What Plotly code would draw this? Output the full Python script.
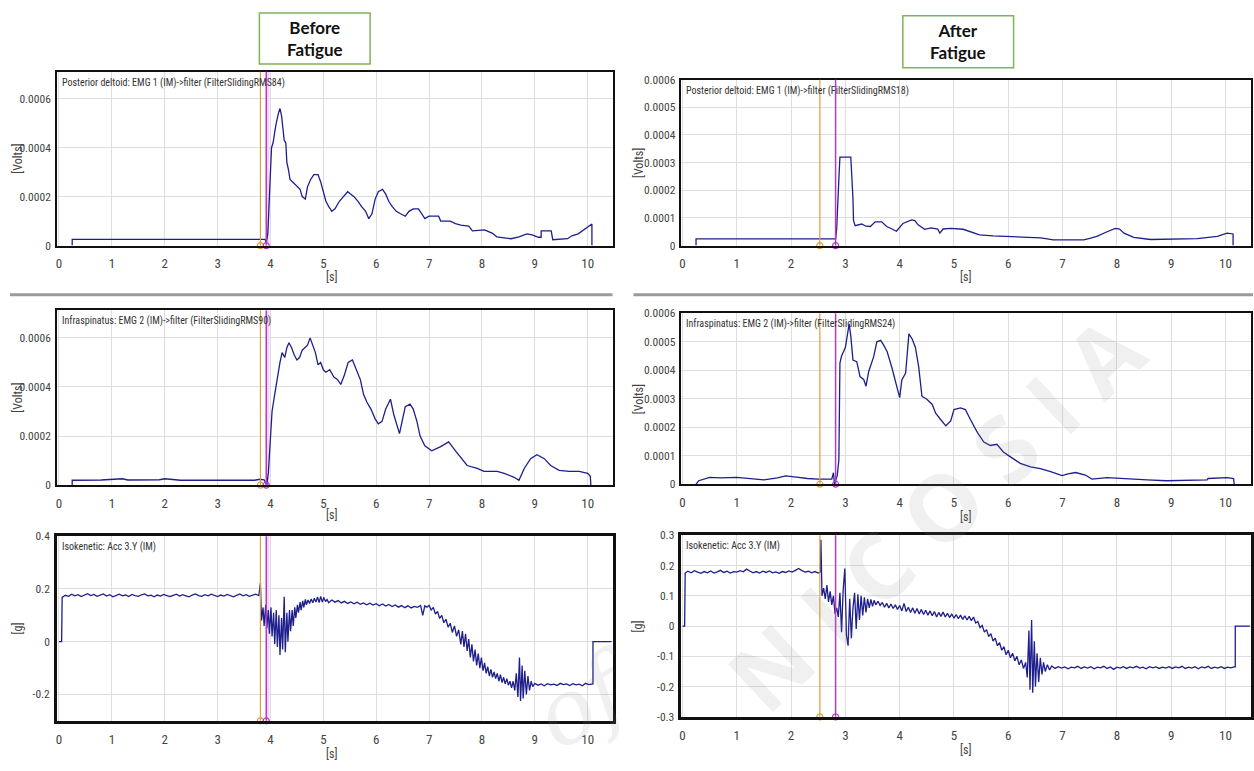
import plotly.graph_objects as go

W, H = 1254, 771

# ---------------- data ----------------
x_ticks = [0, 1, 2, 3, 4, 5, 6, 7, 8, 9, 10]
x_tick_labels = ["0", "1", "2", "3", "4", "5", "6", "7", "8", "9", "10"]

before_emg_ticks = [0, 0.0002, 0.0004, 0.0006]
before_emg_labels = ["0", "0.0002", "0.0004", "0.0006"]
after_emg_ticks = [0, 0.0001, 0.0002, 0.0003, 0.0004, 0.0005, 0.0006]
after_emg_labels = ["0", "0.0001", "0.0002", "0.0003", "0.0004", "0.0005", "0.0006"]
before_acc_ticks = [-0.2, 0, 0.2, 0.4]
before_acc_labels = ["-0.2", "0", "0.2", "0.4"]
after_acc_ticks = [-0.3, -0.2, -0.1, 0, 0.1, 0.2, 0.3]
after_acc_labels = ["-0.3", "-0.2", "-0.1", "0", "0.1", "0.2", "0.3"]

# event markers (orange, magenta) in seconds
before_events = [3.81, 3.92]
after_events = [2.53, 2.82]

# Posterior deltoid, before fatigue (time s, volts)
emg1_before = [
    (0.25, 0), (0.25, 0.000025), (3.9, 0.000025), (3.92, 0.00001), (3.95, 0.00005),
    (3.98, 0.0002), (4.0, 0.00033), (4.02, 0.0004), (4.05, 0.00042), (4.1, 0.00049),
    (4.15, 0.00054), (4.18, 0.00056), (4.21, 0.00053), (4.24, 0.00045), (4.26, 0.00043),
    (4.29, 0.00042), (4.31, 0.00034), (4.34, 0.00031), (4.37, 0.00027), (4.42, 0.00026),
    (4.47, 0.00025), (4.52, 0.00024), (4.56, 0.00023), (4.6, 0.0002), (4.66, 0.00019),
    (4.7, 0.00024), (4.76, 0.00027), (4.82, 0.00029), (4.9, 0.00029), (4.95, 0.00026),
    (4.99, 0.00023), (5.05, 0.00018), (5.1, 0.00016), (5.16, 0.00014), (5.22, 0.00015),
    (5.3, 0.00018), (5.38, 0.0002), (5.46, 0.00022), (5.52, 0.00021), (5.58, 0.0002),
    (5.66, 0.00018), (5.72, 0.00016), (5.8, 0.00014), (5.86, 0.00011), (5.92, 0.00013),
    (5.98, 0.00019), (6.04, 0.00022), (6.12, 0.00023), (6.18, 0.00021), (6.24, 0.00018),
    (6.3, 0.00016), (6.38, 0.00014), (6.46, 0.00013), (6.55, 0.00012), (6.62, 0.00014),
    (6.7, 0.00015), (6.8, 0.00015), (6.86, 0.00013), (6.92, 0.00011), (7.0, 0.00012),
    (7.18, 0.00012), (7.22, 0.0001), (7.4, 0.0001), (7.5, 0.00009), (7.6, 0.000084),
    (7.75, 0.00008), (7.82, 0.00006), (8.05, 0.000064), (8.2, 0.00005), (8.28, 0.000036),
    (8.55, 0.000028), (8.7, 0.000036), (8.85, 0.000048), (8.95, 0.000044), (9.07, 0.000034),
    (9.12, 0.000034), (9.12, 0.00006), (9.31, 0.00006), (9.34, 0.000024), (9.62, 0.000028),
    (9.7, 0.00004), (9.82, 0.000048), (9.92, 0.000064), (10.02, 0.00008), (10.08, 0.000088),
    (10.08, 0),
]

# Infraspinatus, before fatigue
emg2_before = [
    (0.25, 0), (0.25, 0.00002), (0.8, 0.000021), (1.0, 0.000024), (1.2, 0.000026),
    (1.3, 0.000021), (1.9, 0.000022), (2.0, 0.000026), (2.15, 0.000024), (2.3, 0.00002),
    (3.7, 0.00002), (3.8, 0.000024), (3.88, 0.000022), (3.93, 0.0), (3.96, 0.00005),
    (3.99, 0.00016), (4.03, 0.0003), (4.08, 0.00037), (4.13, 0.00044), (4.18, 0.0005),
    (4.22, 0.00054), (4.27, 0.00052), (4.31, 0.00056), (4.35, 0.00058), (4.4, 0.00056),
    (4.45, 0.00053), (4.5, 0.00051), (4.55, 0.00052), (4.6, 0.00055), (4.65, 0.00056),
    (4.7, 0.00057), (4.75, 0.0006), (4.8, 0.00057), (4.85, 0.00054), (4.9, 0.00049),
    (4.95, 0.0005), (5.0, 0.00047), (5.05, 0.00046), (5.12, 0.00047), (5.2, 0.00044),
    (5.27, 0.00043), (5.33, 0.00041), (5.4, 0.00045), (5.47, 0.0005), (5.55, 0.00051),
    (5.62, 0.00047), (5.7, 0.00043), (5.76, 0.00037), (5.82, 0.00034), (5.9, 0.00031),
    (5.98, 0.00027), (6.04, 0.00025), (6.11, 0.00026), (6.18, 0.00031), (6.27, 0.00035),
    (6.33, 0.00029), (6.39, 0.00024), (6.44, 0.00021), (6.49, 0.00026), (6.55, 0.00032),
    (6.64, 0.00033), (6.7, 0.00031), (6.77, 0.00026), (6.83, 0.0002), (6.92, 0.00016),
    (7.05, 0.00014), (7.21, 0.000156), (7.37, 0.000176), (7.5, 0.00014), (7.59, 0.000116),
    (7.72, 0.00008), (7.91, 0.000068), (8.04, 0.000056), (8.29, 0.000056), (8.42, 0.000048),
    (8.61, 0.000032), (8.7, 0.00002), (8.8, 0.000068), (8.92, 0.000108), (9.04, 0.000124),
    (9.18, 0.000108), (9.3, 0.00008), (9.46, 0.00006), (9.65, 0.000056), (9.84, 0.000056),
    (10.0, 0.000048), (10.05, 0.000036), (10.06, 0),
]

# Isokinetic acc, before fatigue (g)
acc_before = [
    (0.0, 0), (0.05, 0), (0.06, 0.168), (0.12, 0.176), (0.18, 0.172), (0.24, 0.180),
    (0.30, 0.174), (0.36, 0.178), (0.42, 0.171), (0.48, 0.177), (0.54, 0.182), (0.60, 0.175),
    (0.66, 0.179), (0.72, 0.172), (0.78, 0.176), (0.84, 0.181), (0.90, 0.173), (0.96, 0.178),
    (1.02, 0.170), (1.08, 0.176), (1.14, 0.180), (1.20, 0.174), (1.26, 0.177), (1.32, 0.171),
    (1.38, 0.179), (1.44, 0.175), (1.50, 0.172), (1.56, 0.178), (1.62, 0.181), (1.68, 0.174),
    (1.74, 0.176), (1.80, 0.170), (1.86, 0.177), (1.92, 0.173), (1.98, 0.179), (2.04, 0.175),
    (2.10, 0.171), (2.16, 0.176), (2.22, 0.180), (2.28, 0.173), (2.34, 0.178), (2.40, 0.174),
    (2.46, 0.170), (2.52, 0.177), (2.58, 0.181), (2.64, 0.175), (2.70, 0.172), (2.76, 0.178),
    (2.82, 0.174), (2.88, 0.180), (2.94, 0.176), (3.00, 0.171), (3.06, 0.177), (3.12, 0.173),
    (3.18, 0.179), (3.24, 0.175), (3.30, 0.170), (3.36, 0.176), (3.42, 0.181), (3.48, 0.174),
    (3.54, 0.178), (3.60, 0.172), (3.66, 0.177), (3.72, 0.180), (3.78, 0.175), (3.81, 0.222),
    (3.83, 0.08), (3.86, 0.13), (3.88, 0.06), (3.91, 0.14), (3.93, 0.05), (3.96, 0.12),
    (3.98, 0.03), (4.01, 0.13), (4.03, 0.02), (4.06, 0.11), (4.08, -0.01), (4.11, 0.12),
    (4.13, -0.02), (4.16, 0.10), (4.18, -0.05), (4.21, 0.09), (4.23, -0.03), (4.26, 0.17),
    (4.28, -0.04), (4.31, 0.11), (4.33, 0.00), (4.36, 0.12), (4.38, 0.04), (4.41, 0.12),
    (4.43, 0.06), (4.46, 0.13), (4.48, 0.09), (4.51, 0.14), (4.53, 0.11), (4.56, 0.15),
    (4.58, 0.12), (4.61, 0.155), (4.63, 0.13), (4.66, 0.16), (4.68, 0.14), (4.71, 0.158),
    (4.74, 0.145), (4.77, 0.162), (4.80, 0.148), (4.83, 0.165), (4.86, 0.15), (4.89, 0.17),
    (4.92, 0.148), (4.95, 0.172), (4.98, 0.15), (5.01, 0.168), (5.04, 0.152), (5.07, 0.16),
    (5.10, 0.148), (5.16, 0.158), (5.22, 0.150), (5.28, 0.156), (5.34, 0.147), (5.40, 0.153),
    (5.46, 0.145), (5.52, 0.151), (5.58, 0.144), (5.64, 0.150), (5.70, 0.142), (5.76, 0.147),
    (5.82, 0.140), (5.88, 0.146), (5.94, 0.139), (6.00, 0.144), (6.06, 0.136), (6.12, 0.143),
    (6.18, 0.135), (6.24, 0.141), (6.30, 0.133), (6.36, 0.139), (6.42, 0.131), (6.48, 0.137),
    (6.54, 0.129), (6.60, 0.136), (6.66, 0.128), (6.72, 0.134), (6.78, 0.130), (6.84, 0.137),
    (6.88, 0.100), (6.92, 0.136), (6.96, 0.131), (7.00, 0.138), (7.04, 0.120), (7.08, 0.130),
    (7.12, 0.105), (7.16, 0.115), (7.20, 0.088), (7.24, 0.100), (7.28, 0.072), (7.32, 0.085),
    (7.36, 0.055), (7.40, 0.070), (7.44, 0.035), (7.48, 0.060), (7.52, 0.020), (7.56, 0.045),
    (7.60, -0.010), (7.63, 0.040), (7.66, -0.020), (7.69, 0.030), (7.72, -0.035), (7.75, 0.010),
    (7.78, -0.060), (7.81, -0.010), (7.84, -0.075), (7.87, -0.030), (7.90, -0.090), (7.93, -0.045),
    (7.96, -0.100), (7.99, -0.060), (8.02, -0.110), (8.05, -0.080), (8.08, -0.120), (8.11, -0.095),
    (8.14, -0.130), (8.17, -0.105), (8.20, -0.135), (8.23, -0.115), (8.26, -0.140), (8.29, -0.120),
    (8.32, -0.150), (8.35, -0.125), (8.38, -0.155), (8.41, -0.135), (8.44, -0.160), (8.47, -0.140),
    (8.50, -0.165), (8.53, -0.150), (8.56, -0.175), (8.59, -0.150), (8.62, -0.185), (8.65, -0.120),
    (8.68, -0.210), (8.71, -0.060), (8.73, -0.225), (8.76, -0.090), (8.78, -0.215), (8.81, -0.110),
    (8.84, -0.200), (8.87, -0.130), (8.90, -0.185), (8.93, -0.150), (8.96, -0.170), (9.00, -0.158),
    (9.06, -0.165), (9.12, -0.160), (9.18, -0.167), (9.24, -0.159), (9.30, -0.164), (9.36, -0.161),
    (9.42, -0.166), (9.48, -0.158), (9.54, -0.163), (9.60, -0.160), (9.66, -0.166), (9.72, -0.159),
    (9.78, -0.164), (9.84, -0.161), (9.90, -0.167), (9.96, -0.158), (10.02, -0.163), (10.08, -0.160),
    (10.10, -0.160), (10.10, 0.0), (10.45, 0.0),
]

# Posterior deltoid, after fatigue
emg1_after = [
    (0.25, 0), (0.25, 0.000024), (2.82, 0.000024), (2.84, 0.00006), (2.88, 0.00024),
    (2.9, 0.00032), (3.1, 0.00032), (3.12, 0.00026), (3.14, 0.00017), (3.15, 0.00009),
    (3.18, 0.000072), (3.3, 0.000078), (3.38, 0.00007), (3.46, 0.000069), (3.55, 0.000086),
    (3.67, 0.000086), (3.76, 0.000069), (3.86, 0.00006), (3.94, 0.000052), (4.06, 0.00008),
    (4.22, 0.000093), (4.28, 0.00009), (4.34, 0.000075), (4.46, 0.000059), (4.58, 0.000064),
    (4.7, 0.00006), (4.74, 0.000045), (4.8, 0.00006), (4.93, 0.000062), (5.17, 0.000059),
    (5.3, 0.00005), (5.47, 0.000039), (5.72, 0.000035), (6.03, 0.000033), (6.52, 0.00003),
    (6.6, 0.000028), (6.83, 0.000021), (7.39, 0.000021), (7.5, 0.000026), (7.63, 0.000033),
    (7.82, 0.00005), (7.97, 0.000062), (8.05, 0.00006), (8.13, 0.000045), (8.31, 0.00003),
    (8.62, 0.000022), (9.48, 0.000025), (9.6, 0.000028), (9.85, 0.000033), (10.03, 0.000045),
    (10.14, 0.000042), (10.14, 0),
]

# Infraspinatus, after fatigue
emg2_after = [
    (0.25, 0), (0.3, 0.000012), (0.5, 0.000024), (0.7, 0.000022), (1.0, 0.000024),
    (1.2, 0.00002), (1.5, 0.000015), (1.75, 0.000022), (1.9, 0.000029), (2.1, 0.000025),
    (2.3, 0.00002), (2.5, 0.000018), (2.75, 0.000018), (2.78, 0.00004), (2.8, 0.0),
    (2.85, 0.00003), (2.88, 0.000084), (2.9, 0.000425), (2.93, 0.00045), (3.0, 0.00048),
    (3.07, 0.000563), (3.1, 0.00052), (3.14, 0.000436), (3.21, 0.00043), (3.27, 0.000378),
    (3.34, 0.000367), (3.38, 0.000344), (3.43, 0.000396), (3.52, 0.000447), (3.58, 0.0005),
    (3.65, 0.000505), (3.7, 0.00049), (3.77, 0.000465), (3.86, 0.000407), (3.94, 0.000344),
    (4.0, 0.000304), (4.04, 0.000366), (4.11, 0.00039), (4.17, 0.000528), (4.23, 0.00051),
    (4.29, 0.00048), (4.35, 0.000413), (4.41, 0.000309), (4.5, 0.000298), (4.6, 0.00028),
    (4.66, 0.00025), (4.75, 0.000228), (4.85, 0.000205), (4.94, 0.000222), (5.0, 0.000262),
    (5.12, 0.000268), (5.21, 0.000262), (5.3, 0.000228), (5.43, 0.000182), (5.55, 0.000148),
    (5.67, 0.000136), (5.79, 0.00014), (5.91, 0.000113), (6.04, 0.000096), (6.22, 0.000073),
    (6.41, 0.000061), (6.59, 0.000055), (6.78, 0.000044), (6.99, 0.00003), (7.1, 0.000036),
    (7.24, 0.000041), (7.42, 0.000032), (7.54, 0.000018), (7.82, 0.000023), (8.2, 0.000018),
    (8.56, 0.000015), (8.91, 0.000012), (9.66, 0.000015), (9.68, 0.00002), (10.03, 0.000023),
    (10.15, 0.00002), (10.16, 0),
]

# Isokinetic acc, after fatigue (g)
acc_after = [
    (0.0, 0), (0.04, 0), (0.05, 0.175), (0.10, 0.181), (0.16, 0.176), (0.22, 0.183),
    (0.28, 0.178), (0.34, 0.174), (0.40, 0.180), (0.46, 0.176), (0.52, 0.182), (0.58, 0.175),
    (0.64, 0.179), (0.70, 0.184), (0.76, 0.177), (0.82, 0.181), (0.88, 0.175), (0.94, 0.180),
    (1.00, 0.178), (1.06, 0.183), (1.12, 0.179), (1.18, 0.188), (1.24, 0.182), (1.30, 0.176),
    (1.36, 0.180), (1.42, 0.175), (1.48, 0.181), (1.54, 0.177), (1.60, 0.182), (1.66, 0.176),
    (1.72, 0.179), (1.78, 0.174), (1.84, 0.180), (1.90, 0.177), (1.96, 0.182), (2.02, 0.178),
    (2.08, 0.184), (2.14, 0.190), (2.20, 0.183), (2.26, 0.178), (2.32, 0.181), (2.38, 0.176),
    (2.44, 0.180), (2.50, 0.175), (2.54, 0.178), (2.55, 0.285), (2.57, 0.100), (2.60, 0.125),
    (2.63, 0.090), (2.66, 0.135), (2.69, 0.080), (2.72, 0.115), (2.75, 0.070), (2.78, 0.100),
    (2.81, 0.040), (2.84, 0.060), (2.87, 0.030), (2.90, 0.110), (2.93, -0.020), (2.96, 0.120),
    (2.99, 0.190), (3.02, -0.030), (3.05, -0.065), (3.08, 0.090), (3.11, -0.040), (3.14, 0.060),
    (3.17, 0.110), (3.20, -0.010), (3.23, 0.105), (3.26, 0.020), (3.29, 0.100), (3.32, 0.035),
    (3.35, 0.095), (3.38, 0.045), (3.41, 0.090), (3.44, 0.060), (3.47, 0.088), (3.50, 0.065),
    (3.53, 0.085), (3.56, 0.070), (3.60, 0.082), (3.64, 0.068), (3.68, 0.078), (3.72, 0.062),
    (3.76, 0.075), (3.80, 0.060), (3.84, 0.073), (3.88, 0.058), (3.92, 0.070), (3.96, 0.055),
    (4.00, 0.068), (4.04, 0.050), (4.08, 0.075), (4.12, 0.048), (4.16, 0.062), (4.20, 0.045),
    (4.24, 0.060), (4.28, 0.042), (4.32, 0.058), (4.36, 0.040), (4.40, 0.055), (4.44, 0.038),
    (4.48, 0.052), (4.52, 0.036), (4.56, 0.050), (4.60, 0.034), (4.64, 0.048), (4.68, 0.030),
    (4.72, 0.045), (4.76, 0.032), (4.80, 0.046), (4.84, 0.030), (4.88, 0.042), (4.92, 0.028),
    (4.96, 0.040), (5.00, 0.026), (5.04, 0.038), (5.08, 0.024), (5.12, 0.036), (5.16, 0.022),
    (5.20, 0.034), (5.24, 0.020), (5.28, 0.032), (5.32, 0.018), (5.36, 0.030), (5.40, 0.010),
    (5.44, 0.015), (5.48, -0.005), (5.52, 0.002), (5.56, -0.020), (5.60, -0.012), (5.64, -0.035),
    (5.68, -0.025), (5.72, -0.050), (5.76, -0.040), (5.80, -0.065), (5.84, -0.055), (5.88, -0.080),
    (5.92, -0.068), (5.96, -0.095), (6.00, -0.080), (6.04, -0.105), (6.08, -0.090), (6.12, -0.115),
    (6.16, -0.100), (6.20, -0.128), (6.24, -0.112), (6.28, -0.140), (6.32, -0.120), (6.35, -0.170),
    (6.38, -0.015), (6.40, -0.210), (6.43, 0.020), (6.45, -0.220), (6.48, -0.050), (6.50, -0.200),
    (6.53, -0.090), (6.56, -0.185), (6.59, -0.105), (6.62, -0.160), (6.65, -0.120), (6.68, -0.150),
    (6.72, -0.128), (6.76, -0.145), (6.80, -0.132), (6.86, -0.140), (6.92, -0.134), (6.98, -0.139),
    (7.04, -0.135), (7.10, -0.141), (7.16, -0.136), (7.22, -0.138), (7.28, -0.133), (7.34, -0.140),
    (7.40, -0.135), (7.46, -0.139), (7.52, -0.134), (7.58, -0.141), (7.64, -0.136), (7.70, -0.138),
    (7.76, -0.133), (7.82, -0.140), (7.88, -0.135), (7.94, -0.143), (8.00, -0.136), (8.06, -0.139),
    (8.12, -0.134), (8.18, -0.140), (8.24, -0.135), (8.30, -0.138), (8.36, -0.133), (8.42, -0.139),
    (8.48, -0.136), (8.54, -0.141), (8.60, -0.134), (8.66, -0.138), (8.72, -0.135), (8.78, -0.140),
    (8.84, -0.136), (8.90, -0.139), (8.96, -0.134), (9.02, -0.140), (9.08, -0.135), (9.14, -0.138),
    (9.20, -0.133), (9.26, -0.140), (9.32, -0.136), (9.38, -0.139), (9.44, -0.134), (9.50, -0.141),
    (9.56, -0.135), (9.62, -0.138), (9.68, -0.133), (9.74, -0.140), (9.80, -0.136), (9.86, -0.139),
    (9.92, -0.134), (9.98, -0.140), (10.04, -0.136), (10.10, -0.138), (10.16, -0.135), (10.18, -0.135),
    (10.18, 0.0), (10.45, 0.0),
]

panel_titles = [
    "Posterior deltoid: EMG 1 (IM)->filter (FilterSlidingRMS84)",
    "Infraspinatus: EMG 2 (IM)->filter (FilterSlidingRMS90)",
    "Isokenetic: Acc 3.Y (IM)",
    "Posterior deltoid: EMG 1 (IM)->filter (FilterSlidingRMS18)",
    "Infraspinatus: EMG 2 (IM)->filter (FilterSlidingRMS24)",
    "Isokenetic: Acc 3.Y (IM)",
]

# ---------------- layout helpers ----------------
def px(x):
    return x / W

def py(y):
    return 1 - y / H

NARROW = "Liberation Sans Narrow, Arial Narrow, Roboto Condensed, DejaVu Sans Condensed, Roboto, sans-serif"
LINE = "#1e1e8c"
ORANGE = "#d9a23a"
MAGENTA = "#b43cc4"
GRID = "#dedede"

L_X = dict(dom=(55, 612), rng=(-0.04, 10.47), ylab_x=16, s_x=330, txt_x=58)
R_X = dict(dom=(681, 1252), rng=(-0.02, 10.47), ylab_x=638, s_x=966, txt_x=684)

panels = [
    dict(data=emg1_before, col=L_X, yd=(66, 243), yr=(0, 0.00071), yt=before_emg_ticks,
         yl=before_emg_labels, ytitle="[Volts]", s_y=275, ev=before_events, lw=1.5, band=True),
    dict(data=emg2_before, col=L_X, yd=(309, 487), yr=(0, 0.000712), yt=before_emg_ticks,
         yl=before_emg_labels, ytitle="[Volts]", s_y=517, ev=before_events, lw=1.5, band=True),
    dict(data=acc_before, col=L_X, yd=(539, 727), yr=(-0.3, 0.4), yt=before_acc_ticks,
         yl=before_acc_labels, ytitle="[g]", s_y=761, ev=before_events, lw=2.5, band=True),
    dict(data=emg1_after, col=R_X, yd=(74, 243), yr=(0, 0.0006), yt=after_emg_ticks,
         yl=after_emg_labels, ytitle="[Volts]", s_y=275, ev=after_events, lw=1.5, band=False),
    dict(data=emg2_after, col=R_X, yd=(312, 486), yr=(0, 0.0006), yt=after_emg_ticks,
         yl=after_emg_labels, ytitle="[Volts]", s_y=519, ev=after_events, lw=1.5, band=False),
    dict(data=acc_after, col=R_X, yd=(538, 723), yr=(-0.3, 0.3), yt=after_acc_ticks,
         yl=after_acc_labels, ytitle="[g]", s_y=757, ev=after_events, lw=2.5, band=False),
]

fig = go.Figure()
layout = dict(
    width=W, height=H, margin=dict(l=0, r=0, t=0, b=0),
    paper_bgcolor="white", plot_bgcolor="white", showlegend=False,
    font=dict(family=NARROW, color="#333333"),
)
annotations = []
shapes = []

for i, p in enumerate(panels):
    n = i + 1
    xa = "xaxis" if n == 1 else f"xaxis{n}"
    ya = "yaxis" if n == 1 else f"yaxis{n}"
    xref = "x" if n == 1 else f"x{n}"
    yref = "y" if n == 1 else f"y{n}"
    col = p["col"]
    layout[xa] = dict(
        domain=[px(col["dom"][0]), px(col["dom"][1])], range=list(col["rng"]),
        anchor=yref, tickvals=x_ticks, ticktext=x_tick_labels, showgrid=True,
        gridcolor=GRID, gridwidth=1, zeroline=False, showline=True, mirror=True,
        linecolor="#111111", linewidth=p["lw"], ticks="", ticklabelstandoff=5,
        tickfont=dict(family=NARROW, size=13, color="#444444"),
    )
    layout[ya] = dict(
        domain=[py(p["yd"][1]), py(p["yd"][0])], range=list(p["yr"]),
        anchor=xref, tickvals=p["yt"], ticktext=p["yl"], showgrid=True,
        gridcolor=GRID, gridwidth=1, zeroline=False, showline=True, mirror=True,
        linecolor="#111111", linewidth=p["lw"], ticks="", ticklabelstandoff=2,
        tickfont=dict(family=NARROW, size=11.5, color="#444444"),
    )
    t_vals = [d[0] for d in p["data"]]
    v_vals = [d[1] for d in p["data"]]
    ev_o, ev_m = p["ev"]
    if p["band"]:
        shapes.append(dict(type="rect", xref=xref, yref=f"{yref} domain", x0=ev_m, x1=ev_m + 0.06,
                           y0=0, y1=1, fillcolor="#f6d2f6", line=dict(width=0), layer="below"))
    shapes.append(dict(type="line", xref=xref, yref=f"{yref} domain", x0=ev_o, x1=ev_o, y0=0, y1=1,
                       line=dict(color=ORANGE, width=1.2)))
    shapes.append(dict(type="line", xref=xref, yref=f"{yref} domain", x0=ev_m, x1=ev_m, y0=0, y1=1,
                       line=dict(color=MAGENTA, width=1.5)))
    fig.add_trace(go.Scatter(
        x=t_vals, y=v_vals, mode="lines", line=dict(color=LINE, width=1.3),
        xaxis=xref, yaxis=yref, hoverinfo="skip",
    ))
    fig.add_trace(go.Scatter(
        x=[ev_o, ev_m], y=[p["yr"][0], p["yr"][0]], mode="markers",
        marker=dict(symbol="circle-open", size=6, color=[ORANGE, MAGENTA], line=dict(width=1.2)),
        xaxis=xref, yaxis=yref, cliponaxis=False, hoverinfo="skip",
    ))
    annotations.append(dict(
        text=panel_titles[i], xref="paper", yref="paper", x=px(col["txt_x"]), y=py(p["yd"][0] + 3),
        xanchor="left", yanchor="top", showarrow=False,
        font=dict(family=NARROW, size=10, color="#333333"),
    ))
    annotations.append(dict(
        text=p["ytitle"], xref="paper", yref="paper", x=px(col["ylab_x"]),
        y=py((p["yd"][0] + p["yd"][1]) / 2), textangle=-90, showarrow=False,
        xanchor="center", yanchor="middle", font=dict(family=NARROW, size=12, color="#444444"),
    ))
    annotations.append(dict(
        text="[s]", xref="paper", yref="paper", x=px(col["s_x"]), y=py(p["s_y"]),
        showarrow=False, xanchor="center", yanchor="middle",
        font=dict(family=NARROW, size=12, color="#444444"),
    ))

# separators
shapes.append(dict(type="line", xref="paper", yref="paper", x0=px(8), x1=px(612), y0=py(293), y1=py(293),
                   line=dict(color="#9a9a9a", width=3)))
shapes.append(dict(type="line", xref="paper", yref="paper", x0=px(633), x1=px(1254), y0=py(293), y1=py(293),
                   line=dict(color="#9a9a9a", width=3)))

# header boxes
for (x0, x1, y0, y1, label) in [(258, 369, 6, 58, "Before<br>Fatigue"), (903, 1014, 9, 62, "After<br>Fatigue")]:
    shapes.append(dict(type="rect", xref="paper", yref="paper", x0=px(x0), x1=px(x1), y0=py(y1), y1=py(y0),
                       line=dict(color="#7fb45a", width=1.5), fillcolor="white"))
    annotations.append(dict(
        text=f"<b>{label}</b>", xref="paper", yref="paper", x=px((x0 + x1) / 2), y=py((y0 + y1) / 2),
        showarrow=False, xanchor="center", yanchor="middle",
        font=dict(family="Lato, Open Sans, sans-serif", size=17, color="#111111"),
    ))

# faint watermark of the source image
annotations.append(dict(
    text="<b>N I C O S I A</b>", xref="paper", yref="paper", x=px(935), y=py(515),
    textangle=-43, showarrow=False, xanchor="center", yanchor="middle",
    font=dict(family="Open Sans, sans-serif", size=92, color="rgba(140,140,140,0.13)"),
))
annotations.append(dict(
    text="<i>of</i>", xref="paper", yref="paper", x=px(585), y=py(705),
    textangle=-30, showarrow=False, xanchor="center", yanchor="middle",
    font=dict(family="DejaVu Serif, serif", size=90, color="rgba(140,140,140,0.13)"),
))

layout["annotations"] = annotations
layout["shapes"] = shapes
fig.update_layout(**layout)
fig.write_html(
    "out.html",
    config={"displayModeBar": False},
    post_script="document.body.style.margin='0';document.body.style.overflow='hidden';"
                "document.documentElement.style.overflow='hidden';",
)
